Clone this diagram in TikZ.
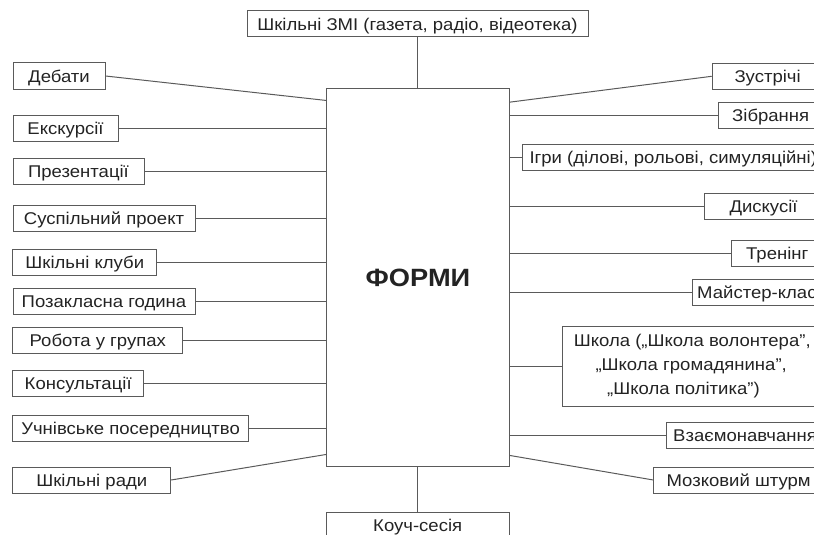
\documentclass[tikz,border=0pt]{standalone}
\usepackage{fontspec}
\setmainfont{Liberation Sans}[FakeStretch=1.09]
\usetikzlibrary{calc}
\definecolor{ln}{RGB}{90,90,90}
\definecolor{tx}{RGB}{35,35,35}
\begin{document}
\begin{tikzpicture}[x=1pt,y=-1pt,
  box/.style={draw=ln, line width=1pt, text=tx, font=\fontsize{17}{24.2}\selectfont, inner sep=0pt, minimum height=26pt},
  one/.style={text height=14pt, text depth=1.8pt},
  rbox/.style={box, one, anchor=west},
  conn/.style={draw=ln, line width=1pt}]
\useasboundingbox (0,0) rectangle (814,535);
\clip (0,0) rectangle (814,535);
% centre
\node[box, minimum width=182.6pt, minimum height=377.7pt, font=\fontsize{25}{30}\selectfont\bfseries] (main) at (418,277.8) {ФОРМИ};
\node[box, one, minimum width=341pt] (top) at (417.5,24) {Шкільні ЗМІ (газета, радіо, відеотека)};
\node[box, one, minimum width=183.3pt] (bot) at (417.7,525.7) {Коуч-сесія};
% left
\node[box, one, minimum width=92pt] (deb) at (59,76) {Дебати};
\node[box, one, minimum width=105pt] (eks) at (65.5,128) {Екскурсії};
\node[box, one, minimum width=131pt] (prez) at (78.5,171) {Презентації};
\node[box, one, minimum width=182pt] (susp) at (104,218.3) {Суспільний проект};
\node[box, one, minimum width=143.7pt] (klub) at (84.8,262.6) {Шкільні клуби};
\node[box, one, minimum width=182pt] (poza) at (104,301) {Позакласна година};
\node[box, one, minimum width=169.7pt] (rob) at (97.8,340.7) {Робота у групах};
\node[box, one, minimum width=130.6pt] (kons) at (78.2,383.7) {Консультації};
\node[box, one, minimum width=235.3pt] (uchn) at (130.6,428) {Учнівське посередництво};
\node[box, one, minimum width=157.7pt] (rady) at (91.8,480) {Шкільні ради};
% right
\node[rbox, inner xsep=22.3pt] (zustr) at (711.7,76.3) {Зустрічі};
\node[rbox, inner xsep=13.4pt] (zibr) at (718.3,115) {Зібрання};
\node[rbox, inner xsep=6.7pt] (igry) at (522.3,157.3) {Ігри (ділові, рольові, симуляційні)};
\node[rbox, inner xsep=24.7pt] (dysk) at (704.3,206) {Дискусії};
\node[rbox, inner xsep=15pt] (tren) at (730.7,253.3) {Тренінг};
\node[rbox, inner xsep=5pt] (maist) at (691.7,292.7) {Майстер-клас};
\node[box, anchor=west, inner xsep=11.6pt, minimum height=79.3pt, align=left] (shk) at (561.7,366.35)
  {Школа („Школа волонтера”,\\\hspace*{21.7pt}„Школа громадянина”,\\\hspace*{33.4pt}„Школа політика”)};
\node[rbox, inner xsep=6.7pt] (vzaem) at (666,435.8) {Взаємонавчання};
\node[rbox, inner xsep=12.7pt] (mozk) at (653.3,480) {Мозковий штурм};
% connectors
\draw[conn] (top.south) -- (top.south |- main.north);
\draw[conn] (bot.north) -- (bot.north |- main.south);
\draw[conn] (deb.east) -- ($(main.north west)+(0,12)$);
\foreach \n in {eks,prez,susp,klub,poza,rob,kons,uchn}
  \draw[conn] (\n.east) -- (\n.east -| main.west);
\draw[conn] (rady.east) -- ($(main.south west)+(0,-12.7)$);
\draw[conn] (zustr.west) -- ($(main.north east)+(0,13.7)$);
\foreach \n in {zibr,igry,dysk,tren,maist,shk,vzaem}
  \draw[conn] (\n.west) -- (\n.west -| main.east);
\draw[conn] (mozk.west) -- ($(main.south east)+(0,-11.7)$);
\end{tikzpicture}
\end{document}
